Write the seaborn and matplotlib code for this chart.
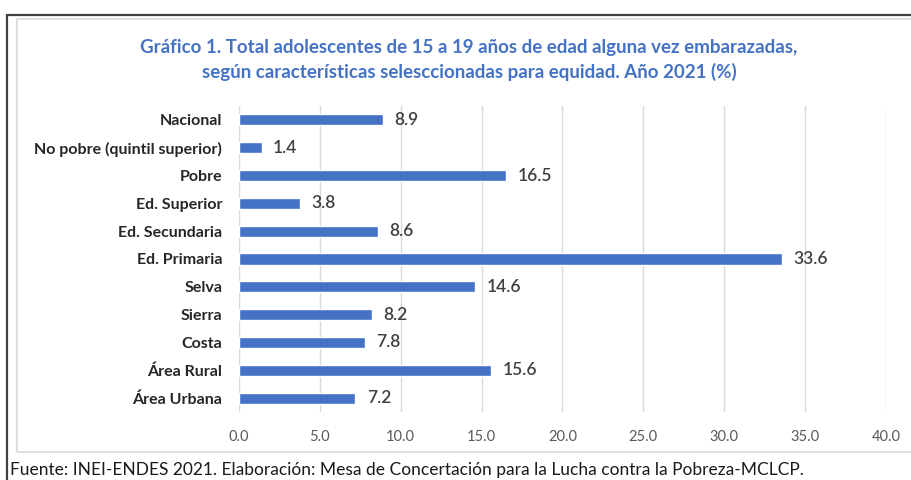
import matplotlib
matplotlib.use("Agg")
import pandas as pd
import seaborn as sns
import matplotlib.pyplot as plt
from matplotlib.lines import Line2D
from matplotlib.patches import Rectangle

# data (top to bottom)
categorias = ["Nacional", "No pobre (quintil superior)", "Pobre", "Ed. Superior",
              "Ed. Secundaria", "Ed. Primaria", "Selva", "Sierra", "Costa",
              "Área Rural", "Área Urbana"]
porcentajes = [8.9, 1.4, 16.5, 3.8, 8.6, 33.6, 14.6, 8.2, 7.8, 15.6, 7.2]
ticks_x = [0, 5, 10, 15, 20, 25, 30, 35, 40]

titulo = ("Gráfico 1. Total adolescentes de 15 a 19 años de edad alguna vez embarazadas,\n"
          "según características selesccionadas para equidad. Año 2021 (%)")
fuente = ("Fuente: INEI-ENDES 2021. Elaboración: Mesa de Concertación para la Lucha "
          "contra la Pobreza-MCLCP.")

df = pd.DataFrame({"categoria": categorias, "valor": porcentajes})

sns.set_style("white")
plt.rcParams["font.family"] = ["Lato", "DejaVu Sans"]

W, H = 912, 480
fig = plt.figure(figsize=(W / 100, H / 100), dpi=100)

# page frame and chart box
fig.add_artist(Line2D([7 / W, 1], [1 - 15 / H, 1 - 15 / H], color="#404040", lw=1.6))
fig.add_artist(Line2D([7 / W, 7 / W], [0, 1 - 15 / H], color="#404040", lw=1.6))
fig.add_artist(Rectangle((17 / W, 1 - 452 / H), 1.2, (452 - 19) / H,
                         transform=fig.transFigure, fill=False,
                         edgecolor="#d9d9d9", lw=1.2))

ax = fig.add_axes([239 / W, 1 - 412 / H, (886 - 239) / W, (412 - 106) / H])
sns.barplot(data=df, x="valor", y="categoria", orient="h", color="#4472C4",
            width=0.4, saturation=1, ax=ax)

for i, v in enumerate(porcentajes):
    ax.text(v + 0.7, i, f"{v:.1f}", va="center", ha="left",
            fontsize=12.5, color="#404040", fontweight="semibold")

ax.set_xlim(0, 40)
ax.set_ylim(10.5, -0.5)
ax.set_xticks(ticks_x)
ax.set_xticklabels([f"{t:.1f}" for t in ticks_x], fontsize=10.5, color="#595959")
ax.tick_params(axis="x", length=0, pad=13)
ax.tick_params(axis="y", length=0, pad=12)
for lbl in ax.get_yticklabels():
    lbl.set_fontweight("bold")
    lbl.set_fontsize(11.5)
    lbl.set_color("#262626")
ax.set_xlabel("")
ax.set_ylabel("")
ax.grid(axis="x", color="#d9d9d9", lw=1)
ax.set_axisbelow(True)
for s in ax.spines.values():
    s.set_visible(False)

fig.text(469 / W, 1 - 60 / H, titulo, ha="center", va="center", fontsize=13.5,
         fontweight="bold", color="#4472C4", linespacing=1.45)
fig.text(10 / W, 1 - 470 / H, fuente, ha="left", va="center", fontsize=12.5,
         color="#1a1a1a")

fig.savefig("out.png", dpi=100)
